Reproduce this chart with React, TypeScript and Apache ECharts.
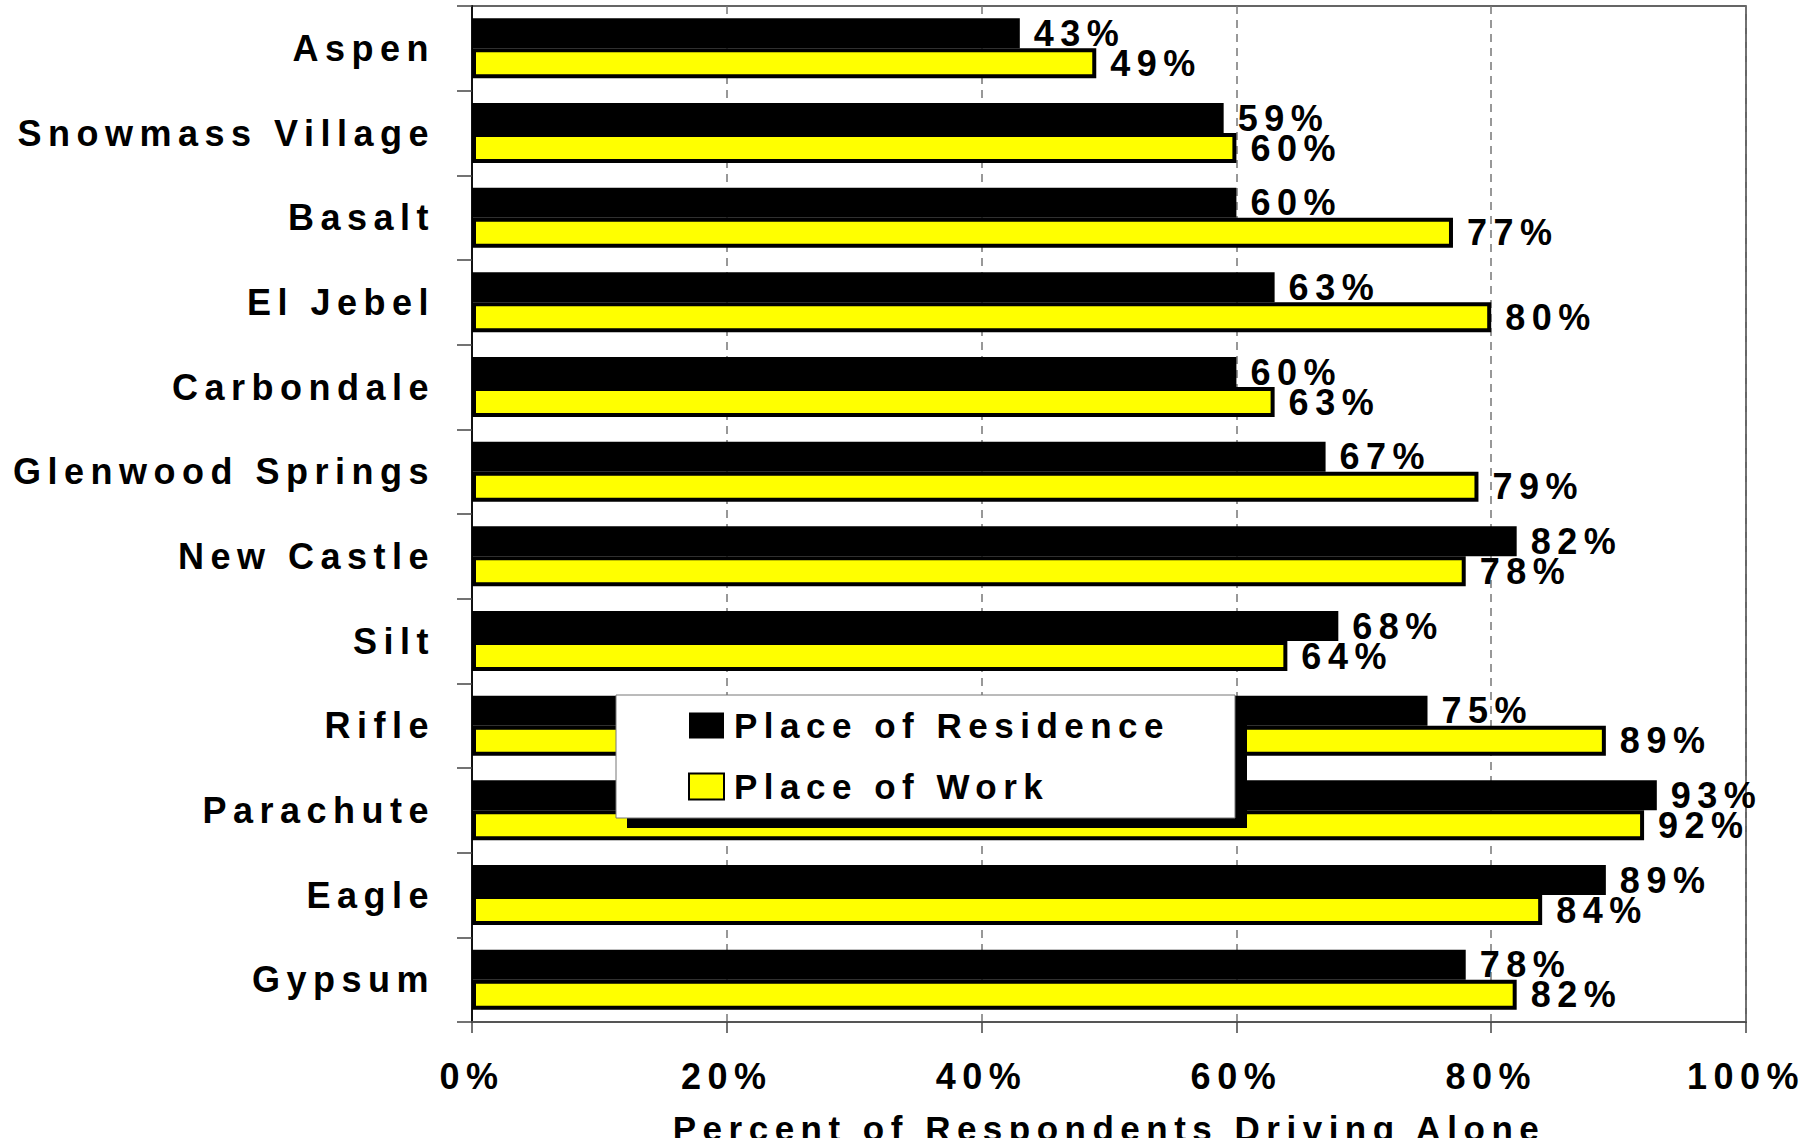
import React, { useEffect, useRef } from "react";
import * as echarts from "echarts";

// Towns, top to bottom
const towns = [
  "Aspen",
  "Snowmass Village",
  "Basalt",
  "El Jebel",
  "Carbondale",
  "Glenwood Springs",
  "New Castle",
  "Silt",
  "Rifle",
  "Parachute",
  "Eagle",
  "Gypsum",
];

// Share of respondents driving alone (%)
const placeOfResidence = [43, 59, 60, 63, 60, 67, 82, 68, 75, 93, 89, 78];
const placeOfWork = [49, 60, 77, 80, 63, 79, 78, 64, 89, 92, 84, 82];

// Percent axis ticks
const percentTicks = [0, 20, 40, 60, 80, 100];

const seriesNames = ["Place of Residence", "Place of Work"];
const axisTitle = "Percent of Respondents Driving Alone";

const FONT = "'Liberation Sans', Arial, Helvetica, sans-serif";
const TEXT = { fontFamily: FONT, fontWeight: "bold" as const, fontSize: 36, color: "#000" };

export default function App() {
  const ref = useRef<HTMLDivElement>(null);

  useEffect(() => {
    if (!ref.current) return;
    const chart = echarts.init(ref.current, null, { renderer: "svg" });

    const barLabel = {
      show: true,
      position: "right" as const,
      distance: 14,
      formatter: "{c}%",
      ...TEXT,
    };

    chart.setOption({
      animation: false,
      backgroundColor: "#ffffff",
      textStyle: TEXT,
      grid: {
        left: 472,
        top: 6,
        width: 1274,
        height: 1016,
        outerBoundsMode: "none",
        containLabel: false,
        show: true,
        borderColor: "#333",
        borderWidth: 1.5,
        backgroundColor: "transparent",
      },
      xAxis: {
        type: "value",
        min: percentTicks[0],
        max: percentTicks[percentTicks.length - 1],
        interval: percentTicks[1] - percentTicks[0],
        name: axisTitle,
        nameLocation: "middle",
        nameGap: 89,
        nameTextStyle: { ...TEXT, fontSize: 35 },
        axisLine: { show: true, lineStyle: { color: "#555", width: 2 } },
        axisTick: { show: true, length: 11, lineStyle: { color: "#444", width: 1.5 } },
        axisLabel: { formatter: "{value}%", margin: 36, ...TEXT },
        splitLine: { show: true, lineStyle: { type: [8, 6], color: "#777", width: 1.5 } },
      },
      yAxis: {
        type: "category",
        data: towns,
        inverse: true,
        axisLine: { show: true, lineStyle: { color: "#111", width: 2 } },
        axisTick: { show: true, length: 15, lineStyle: { color: "#444", width: 1.5 } },
        axisLabel: { margin: 37, interval: 0, ...TEXT },
        splitLine: { show: false },
      },
      legend: {
        orient: "vertical",
        left: 688,
        top: 708,
        padding: 0,
        itemWidth: 35,
        itemHeight: 26,
        itemGap: 26,
        icon: "rect",
        selectedMode: false,
        textStyle: { ...TEXT, fontSize: 35, lineHeight: 26, padding: [0, 0, 0, 5] },
        data: seriesNames,
      },
      graphic: [
        {
          type: "rect",
          z: 3,
          shape: { x: 627, y: 707, width: 620, height: 121 },
          style: { fill: "#000" },
        },
        {
          type: "rect",
          z: 3,
          shape: { x: 616, y: 695, width: 619, height: 123 },
          style: { fill: "#fff", stroke: "#777", lineWidth: 1 },
        },
      ],
      series: [
        {
          name: seriesNames[0],
          type: "bar",
          data: placeOfResidence,
          barWidth: 30,
          barGap: "0%",
          itemStyle: { color: "#000", borderColor: "#000", borderWidth: 0 },
          label: barLabel,
        },
        {
          name: seriesNames[1],
          type: "bar",
          data: placeOfWork,
          barWidth: 30,
          barGap: "0%",
          itemStyle: { color: "#ffff00", borderColor: "#000", borderWidth: 4 },
          label: barLabel,
        },
      ],
    });

    return () => chart.dispose();
  }, []);

  return (
    <div
      ref={ref}
      style={{
        position: "fixed",
        left: 0,
        top: 0,
        width: 1806,
        height: 1138,
        letterSpacing: "6.5px",
        background: "#fff",
      }}
    />
  );
}
